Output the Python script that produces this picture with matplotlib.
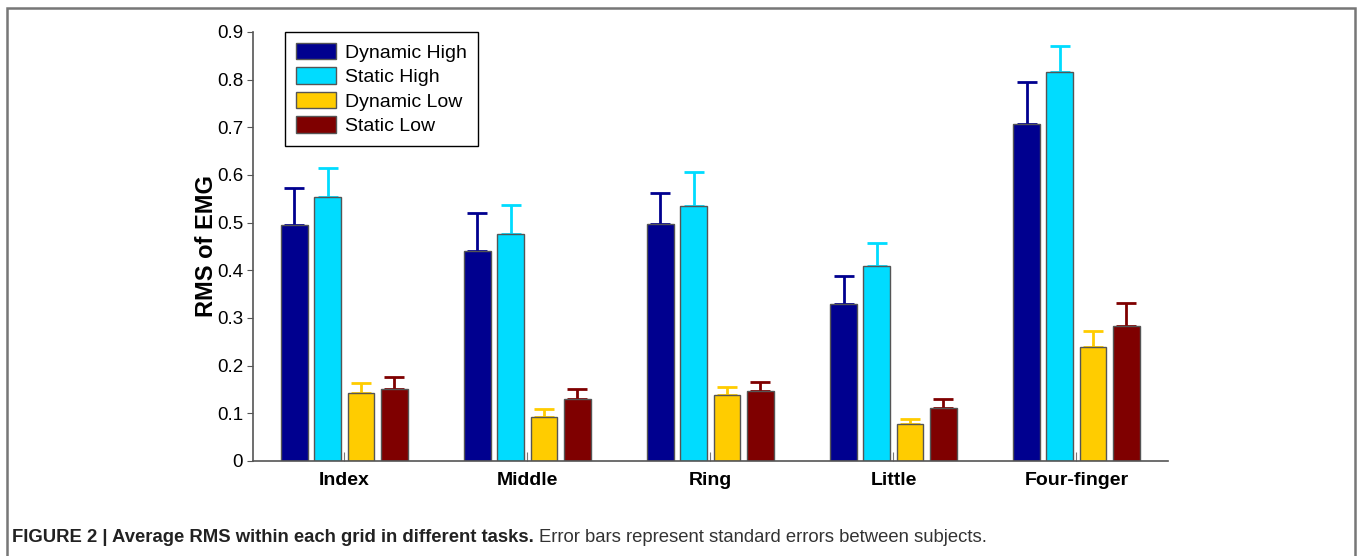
import matplotlib.pyplot as plt
import numpy as np
from matplotlib.patches import Rectangle

fingers = ["Index", "Middle", "Ring", "Little", "Four-finger"]
series = ["Dynamic High", "Static High", "Dynamic Low", "Static Low"]
colors = ["#00008f", "#00dcff", "#ffcc00", "#7f0000"]

dyn_high = [0.495, 0.440, 0.497, 0.330, 0.707]
stat_high = [0.553, 0.476, 0.535, 0.408, 0.816]
dyn_low = [0.143, 0.092, 0.138, 0.078, 0.240]
stat_low = [0.152, 0.131, 0.146, 0.112, 0.283]

dyn_high_se = [0.078, 0.080, 0.065, 0.059, 0.089]
stat_high_se = [0.061, 0.061, 0.072, 0.050, 0.055]
dyn_low_se = [0.020, 0.016, 0.018, 0.011, 0.032]
stat_low_se = [0.024, 0.021, 0.019, 0.017, 0.048]

yticks = [0, 0.1, 0.2, 0.3, 0.4, 0.5, 0.6, 0.7, 0.8, 0.9]

plt.rcParams["font.family"] = ["Liberation Sans", "DejaVu Sans"]

fig = plt.figure(figsize=(13.57, 5.56), dpi=100)
ax = fig.add_axes([0.1864, 0.1709, 0.6743, 0.7716])

values = [dyn_high, stat_high, dyn_low, stat_low]
errors = [dyn_high_se, stat_high_se, dyn_low_se, stat_low_se]
x = np.arange(1, len(fingers) + 1)
pitch = 0.182
width = 0.146
for i, (vals, errs, col, name) in enumerate(zip(values, errors, colors, series)):
    pos = x + (i - 1.5) * pitch
    ax.bar(pos, vals, width, color=col, edgecolor="#555555", linewidth=1.0,
           label=name, zorder=2)
    ax.errorbar(pos, vals, yerr=[np.zeros(len(vals)), errs], fmt="none",
                ecolor=col, elinewidth=2, capsize=7, capthick=2, zorder=1)

ax.set_xlim(0.5, 5.5)
ax.set_ylim(0, 0.9)
ax.set_yticks(yticks)
ax.set_yticklabels([f"{v:g}" for v in yticks], fontsize=13.5)
ax.set_xticks(x)
ax.set_xticklabels(fingers, fontsize=14, fontweight="bold")
ax.tick_params(axis="y", direction="out", length=4, color="#555555", pad=3)
ax.tick_params(axis="x", direction="in", length=6.5, color="#777777", pad=8)
ax.set_ylabel("RMS of EMG", fontsize=17, fontweight="bold", labelpad=-1)
for s in ["top", "right"]:
    ax.spines[s].set_visible(False)
for s in ["left", "bottom"]:
    ax.spines[s].set_color("#555555")
    ax.spines[s].set_linewidth(1.2)

leg = ax.legend(loc="upper left", bbox_to_anchor=(0.035, 1.0), borderaxespad=0,
                fontsize=14, handlelength=2.1, handleheight=0.95,
                labelspacing=0.28, handletextpad=0.45, fancybox=False,
                framealpha=1, edgecolor="black", borderpad=0.55)
leg.get_frame().set_linewidth(1.0)

# outer border of the figure panel
fig.patches.append(Rectangle((7 / 1357, -0.01), 1348 / 1357, 1 - 8 / 556 + 0.01,
                             transform=fig.transFigure, fill=False,
                             edgecolor="#777777", linewidth=1.8))

cap_font = ["Liberation Sans Narrow", "Liberation Sans", "DejaVu Sans"]
t1 = fig.text(12 / 1357, 1 - 538 / 556,
              "FIGURE 2 | Average RMS within each grid in different tasks.",
              fontsize=13.3, fontweight="bold", family=cap_font, va="center",
              color="#222222")
fig.canvas.draw()
bb = t1.get_window_extent()
fig.text((bb.x1 + 5) / 1357, 1 - 538 / 556,
         "Error bars represent standard errors between subjects.",
         fontsize=13.3, family=cap_font, va="center", color="#333333")

fig.savefig("out.png", dpi=100)
